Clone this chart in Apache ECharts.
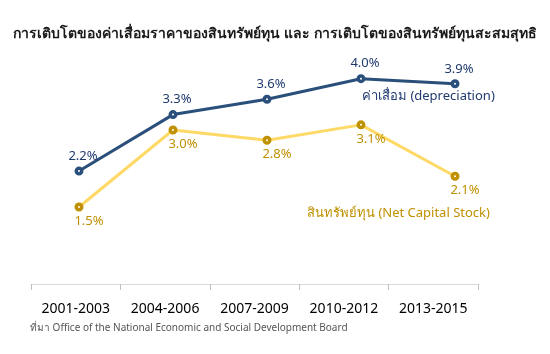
<!DOCTYPE html>
<html>
<head>
<meta charset="utf-8">
<script src="https://cdn.jsdelivr.net/npm/echarts@6/dist/echarts.min.js"></script>
<style>
  html, body { margin: 0; padding: 0; background: #fff; }
  #main { width: 550px; height: 354px; }
</style>
</head>
<body>
<div id="main"></div>
<script>
var categories = ["2001-2003", "2004-2006", "2007-2009", "2010-2012", "2013-2015"];
var depreciation = [2.2, 3.3, 3.6, 4.0, 3.9];
var capitalStock = [1.5, 3.0, 2.8, 3.1, 2.1];

var titleText = "การเติบโตของค่าเสื่อมราคาของสินทรัพย์ทุน และ การเติบโตของสินทรัพย์ทุนสะสมสุทธิ";
var depName = "ค่าเสื่อม (depreciation)";
var stockName = "สินทรัพย์ทุน (Net Capital Stock)";
var sourceText = "ที่มา Office of the National Economic and Social Development Board";

var font = "Tahoma, 'Noto Sans', sans-serif";
var blue = "#2a4f7a";
var blueText = "#1f3a6e";
var yellow = "#ffd966";
var gold = "#bf9000";

var myChart = echarts.init(document.getElementById("main"));

myChart.setOption({
  animation: false,
  title: {
    text: titleText,
    left: "center",
    top: 22,
    textStyle: { fontFamily: font, fontSize: 14, fontWeight: "bold", color: "#1a1a1a" }
  },
  grid: [
    { left: 31, right: 72, top: 53, bottom: 70 },
    { left: 32, right: 48, top: 53, bottom: 70 }
  ],
  xAxis: [
    {
      type: "category",
      gridIndex: 0,
      data: categories,
      axisLine: { lineStyle: { color: "#d9d9d9", width: 1 } },
      axisTick: { show: true, length: 6, lineStyle: { color: "#bfbfbf" } },
      axisLabel: { margin: 18, fontFamily: font, fontSize: 14, color: "#000" }
    },
    {
      type: "category",
      gridIndex: 1,
      data: categories,
      show: false
    }
  ],
  yAxis: [
    { type: "value", gridIndex: 0, min: 0, max: 4.5, show: false },
    { type: "value", gridIndex: 1, min: 0, max: 4.5, show: false }
  ],
  series: [
    {
      name: depName,
      type: "line",
      xAxisIndex: 1,
      yAxisIndex: 1,
      data: depreciation,
      symbol: "circle",
      symbolSize: 5.5,
      lineStyle: { color: blue, width: 3 },
      itemStyle: { color: "#fff", borderColor: blue, borderWidth: 3.5 },
      label: {
        show: true,
        position: "top",
        distance: 4,
        offset: [4, 0],
        formatter: function (p) { return p.value.toFixed(1) + "%"; },
        fontFamily: font,
        fontSize: 13,
        color: blueText
      }
    },
    {
      name: stockName,
      type: "line",
      xAxisIndex: 1,
      yAxisIndex: 1,
      data: capitalStock,
      symbol: "circle",
      symbolSize: 5.5,
      lineStyle: { color: yellow, width: 3 },
      itemStyle: { color: "#fff", borderColor: gold, borderWidth: 3.5 },
      label: {
        show: true,
        position: "bottom",
        distance: 4,
        offset: [10, -1],
        formatter: function (p) { return p.value.toFixed(1) + "%"; },
        fontFamily: font,
        fontSize: 13,
        color: gold
      }
    }
  ],
  graphic: [
    {
      type: "text",
      left: 362,
      top: 90,
      style: { text: depName, fontFamily: font, fontSize: 13, fill: blueText }
    },
    {
      type: "text",
      left: 307,
      top: 207,
      style: { text: stockName, fontFamily: font, fontSize: 13, fill: gold }
    },
    {
      type: "text",
      left: 30,
      top: 323,
      style: { text: sourceText, fontFamily: font, fontSize: 10, fill: "#555" }
    }
  ]
});
</script>
</body>
</html>
